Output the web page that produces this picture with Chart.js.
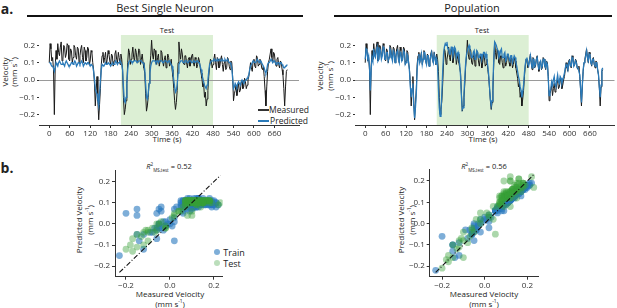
<!DOCTYPE html>
<html><head><meta charset="utf-8">
<script src="https://cdn.jsdelivr.net/npm/chart.js@4/dist/chart.umd.min.js"></script>
<style>
body{margin:0;background:#fff;width:617px;height:308px;position:relative;overflow:hidden;font-family:"Open Sans",sans-serif;color:#222}
.t{position:absolute;white-space:nowrap;transform:translate(-50%,-50%);line-height:1}
.rot{transform:translate(-50%,-50%) rotate(-90deg)}
.bar{position:absolute;height:2px;background:#111}
canvas{position:absolute}
sup,sub{font-size:60%;line-height:0}
</style></head><body>
<div class="t" style="left:7px;top:9px;font-weight:bold;font-size:14px">a.</div>
<div class="t" style="left:7px;top:168px;font-weight:bold;font-size:14px">b.</div>
<div class="t" style="left:165px;top:7px;font-size:11px">Best Single Neuron</div>
<div class="bar" style="left:27px;top:15px;width:276px"></div>
<div class="t" style="left:472px;top:7px;font-size:11px">Population</div>
<div class="bar" style="left:334px;top:15px;width:278px"></div>

<div class="t" style="left:167px;top:31px;font-size:7.5px">Test</div>
<div class="t" style="left:482px;top:31px;font-size:7.5px">Test</div>
<div class="t rot" style="left:5px;top:72px;font-size:8px">Velocity</div>
<div class="t rot" style="left:14px;top:72px;font-size:8px">(mm s<sup>-1</sup>)</div>
<div class="t rot" style="left:320px;top:76px;font-size:8px">Velocity</div>
<div class="t rot" style="left:330px;top:76px;font-size:8px">(mm s<sup>-1</sup>)</div>
<div class="t" style="left:167px;top:139px;font-size:8px">Time (s)</div>
<div class="t" style="left:483px;top:139px;font-size:8px">Time (s)</div>

<div class="bar" style="left:258px;top:108.5px;width:11px;background:#333"></div>
<div class="t" style="left:289px;top:109.5px;font-size:8.5px">Measured</div>
<div class="bar" style="left:258px;top:119.5px;width:11px;background:#2a7ab9"></div>
<div class="t" style="left:289px;top:120.5px;font-size:8.5px">Predicted</div>

<div class="t" style="left:169px;top:167px;font-size:7.5px"><i>R</i><sup>2</sup><sub>MS,test</sub> = 0.52</div>
<div class="t" style="left:484px;top:167px;font-size:7.5px"><i>R</i><sup>2</sup><sub>MS,test</sub> = 0.56</div>
<div class="t rot" style="left:79px;top:220px;font-size:8px">Predicted Velocity</div>
<div class="t rot" style="left:90px;top:220px;font-size:8px">(mm s<sup>-1</sup>)</div>
<div class="t rot" style="left:401px;top:220px;font-size:8px">Predicted Velocity</div>
<div class="t rot" style="left:412px;top:220px;font-size:8px">(mm s<sup>-1</sup>)</div>
<div class="t" style="left:170px;top:294px;font-size:8px">Measured Velocity</div>
<div class="t" style="left:170px;top:304px;font-size:8px">(mm s<sup>-1</sup>)</div>
<div class="t" style="left:484px;top:294px;font-size:8px">Measured Velocity</div>
<div class="t" style="left:484px;top:304px;font-size:8px">(mm s<sup>-1</sup>)</div>

<div style="position:absolute;left:214px;top:249px;width:6px;height:6px;border-radius:50%;background:rgba(40,120,190,0.6)"></div>
<div class="t" style="left:234px;top:252px;font-size:9px">Train</div>
<div style="position:absolute;left:214px;top:259.5px;width:6px;height:6px;border-radius:50%;background:rgba(60,160,60,0.35)"></div>
<div class="t" style="left:232px;top:262.5px;font-size:9px">Test</div>

<canvas id="tsL" width="305" height="117" style="left:0;top:25px"></canvas>
<canvas id="tsR" width="305" height="117" style="left:312px;top:25px"></canvas>
<canvas id="scL" width="140" height="130" style="left:90px;top:160px"></canvas>
<canvas id="scR" width="140" height="130" style="left:405px;top:160px"></canvas>
<script>
const times = [
0,2.5,5,7.5,10,12.5,15,17.5,20,22.5,25,27.5,30,32.5,35,37.5,40,42.5,45,47.5,
50,52.5,55,57.5,60,62.5,65,67.5,70,72.5,75,77.5,80,82.5,85,87.5,90,92.5,95,97.5,
100,102.5,105,107.5,110,112.5,115,117.5,120,122.5,125,127.5,130,132.5,135,137.5,140,142.5,145,147.5,
150,152.5,155,157.5,160,162.5,165,167.5,170,172.5,175,177.5,180,182.5,185,187.5,190,192.5,195,197.5,
200,202.5,205,207.5,210,212.5,215,217.5,220,222.5,225,227.5,230,232.5,235,237.5,240,242.5,245,247.5,
250,252.5,255,257.5,260,262.5,265,267.5,270,272.5,275,277.5,280,282.5,285,287.5,290,292.5,295,297.5,
300,302.5,305,307.5,310,312.5,315,317.5,320,322.5,325,327.5,330,332.5,335,337.5,340,342.5,345,347.5,
350,352.5,355,357.5,360,362.5,365,367.5,370,372.5,375,377.5,380,382.5,385,387.5,390,392.5,395,397.5,
400,402.5,405,407.5,410,412.5,415,417.5,420,422.5,425,427.5,430,432.5,435,437.5,440,442.5,445,447.5,
450,452.5,455,457.5,460,462.5,465,467.5,470,472.5,475,477.5,480,482.5,485,487.5,490,492.5,495,497.5,
500,502.5,505,507.5,510,512.5,515,517.5,520,522.5,525,527.5,530,532.5,535,537.5,540,542.5,545,547.5,
550,552.5,555,557.5,560,562.5,565,567.5,570,572.5,575,577.5,580,582.5,585,587.5,590,592.5,595,597.5,
600,602.5,605,607.5,610,612.5,615,617.5,620,622.5,625,627.5,630,632.5,635,637.5,640,642.5,645,647.5,
650,652.5,655,657.5,660,662.5,665,667.5,670,672.5,675,677.5,680,682.5,685,687.5,690,692.5,695,697.5];

const measured = [
0.10,0.21,0.18,0.11,0.13,0.06,-0.20,0.08,0.17,0.12,0.21,0.16,0.14,0.19,0.22,0.11,0.12,0.20,0.19,0.13,
0.15,0.21,0.20,0.12,0.11,0.18,0.17,0.10,0.13,0.20,0.19,0.14,0.12,0.19,0.18,0.10,0.14,0.18,0.20,0.13,
0.10,0.19,0.17,0.11,0.13,0.19,0.18,0.09,0.11,0.17,0.16,0.10,0.06,-0.02,-0.15,-0.06,0.02,-0.12,-0.23,-0.14,
-0.05,0.09,0.14,0.16,0.10,0.13,0.16,0.09,0.12,0.17,0.15,0.11,0.09,0.15,0.14,0.08,0.11,0.15,0.17,0.12,
0.10,0.16,0.13,0.09,0.15,0.12,0.05,-0.10,-0.20,-0.17,-0.12,-0.02,0.10,0.18,0.16,0.09,0.12,0.15,0.19,0.13,
0.11,0.18,0.16,0.10,0.13,0.18,0.17,0.09,0.12,0.15,0.10,0.07,0.04,-0.08,-0.18,-0.15,-0.10,-0.02,0.08,0.14,
0.23,0.15,0.12,0.18,0.17,0.10,0.09,0.13,0.15,0.08,0.11,0.17,0.16,0.11,0.08,0.12,0.14,0.07,0.10,0.15,
0.13,0.08,0.09,0.12,0.06,0.02,-0.05,-0.12,-0.17,-0.13,-0.06,0.10,0.22,0.16,0.12,0.18,0.15,0.10,0.09,0.14,
0.14,0.10,0.07,0.12,0.13,0.08,0.10,0.14,0.15,0.10,0.08,0.13,0.12,0.07,0.09,0.13,0.11,0.07,0.04,0.01,
-0.04,-0.02,-0.10,-0.07,-0.15,-0.11,-0.06,0.02,0.08,0.12,0.11,0.07,0.09,0.12,0.15,0.10,0.06,0.13,0.12,0.07,
0.08,0.12,0.14,0.09,0.05,0.10,0.11,0.06,0.07,0.13,0.12,0.08,0.06,0.11,0.10,0.02,-0.12,-0.08,-0.06,-0.03,
-0.09,-0.05,-0.02,-0.07,-0.06,-0.02,0.00,-0.05,-0.04,0.01,-0.01,-0.05,-0.03,0.00,0.02,0.06,0.10,0.07,0.05,0.11,
0.12,0.08,0.07,0.14,0.13,0.08,0.09,0.12,0.11,0.07,0.06,0.08,0.02,-0.06,-0.15,-0.04,0.05,0.10,0.12,0.15,
0.18,0.13,0.10,0.16,0.15,0.10,0.08,0.12,0.13,0.09,0.07,0.11,0.10,0.06,0.03,-0.05,-0.15,-0.04,0.05,0.06];

const predSingle = [
0.10,0.10,0.09,0.08,0.08,0.07,0.05,0.07,0.10,0.09,0.08,0.10,0.11,0.10,0.09,0.09,0.10,0.09,0.08,0.10,
0.11,0.10,0.09,0.08,0.08,0.09,0.10,0.10,0.09,0.10,0.11,0.10,0.08,0.09,0.10,0.10,0.09,0.10,0.11,0.10,
0.08,0.09,0.10,0.10,0.09,0.10,0.10,0.09,0.08,0.09,0.09,0.08,0.05,0.01,-0.05,-0.07,-0.08,-0.12,-0.15,-0.08,
0.00,0.06,0.09,0.09,0.08,0.09,0.10,0.09,0.09,0.10,0.10,0.09,0.08,0.09,0.10,0.09,0.09,0.10,0.11,0.10,
0.09,0.10,0.10,0.11,0.11,0.09,0.06,-0.04,-0.12,-0.13,-0.10,-0.02,0.06,0.10,0.11,0.11,0.11,0.10,0.10,0.11,
0.11,0.11,0.11,0.10,0.10,0.11,0.11,0.11,0.11,0.10,0.10,0.09,0.06,-0.02,-0.10,-0.11,-0.08,-0.02,0.04,0.08,
0.10,0.11,0.11,0.11,0.11,0.10,0.11,0.11,0.10,0.11,0.11,0.11,0.11,0.10,0.10,0.11,0.11,0.11,0.11,0.10,
0.11,0.11,0.10,0.09,0.08,0.04,0.00,-0.04,-0.07,-0.06,-0.03,0.04,0.09,0.10,0.11,0.11,0.11,0.10,0.10,0.11,
0.11,0.11,0.10,0.10,0.11,0.11,0.11,0.10,0.10,0.11,0.11,0.10,0.10,0.11,0.11,0.10,0.10,0.08,0.06,0.03,
0.01,-0.01,-0.03,-0.04,-0.05,-0.03,0.00,0.05,0.09,0.10,0.11,0.11,0.11,0.12,0.12,0.11,0.11,0.12,0.11,0.11,
0.12,0.11,0.11,0.12,0.11,0.11,0.12,0.11,0.11,0.12,0.11,0.10,0.10,0.09,0.07,0.01,-0.05,-0.04,-0.02,-0.03,
-0.04,-0.02,-0.01,-0.02,-0.03,-0.01,0.00,-0.01,-0.02,-0.01,0.00,0.00,0.01,0.02,0.03,0.06,0.08,0.09,0.10,0.11,
0.11,0.10,0.10,0.11,0.12,0.11,0.10,0.11,0.11,0.10,0.09,0.08,0.07,0.05,0.04,0.06,0.09,0.10,0.10,0.11,
0.12,0.11,0.10,0.11,0.11,0.10,0.09,0.10,0.10,0.10,0.09,0.10,0.10,0.09,0.08,0.07,0.07,0.08,0.08,0.09];

const predPop = [
0.12,0.18,0.17,0.12,0.14,0.08,-0.06,0.06,0.13,0.11,0.18,0.14,0.13,0.17,0.19,0.11,0.12,0.18,0.17,0.12,
0.14,0.19,0.18,0.12,0.12,0.16,0.16,0.11,0.13,0.18,0.17,0.13,0.11,0.17,0.16,0.10,0.13,0.16,0.17,0.12,
0.10,0.16,0.15,0.11,0.12,0.17,0.16,0.09,0.10,0.15,0.14,0.10,0.05,-0.04,-0.10,-0.05,-0.02,-0.15,-0.22,-0.16,
-0.08,0.06,0.12,0.15,0.10,0.12,0.15,0.09,0.12,0.16,0.16,0.11,0.09,0.14,0.14,0.08,0.11,0.14,0.16,0.12,
0.10,0.15,0.13,0.09,0.12,0.08,-0.05,-0.16,-0.21,-0.18,-0.08,0.05,0.15,0.19,0.21,0.20,0.22,0.18,0.18,0.15,
0.15,0.19,0.19,0.14,0.16,0.19,0.18,0.13,0.15,0.16,0.12,0.09,0.02,-0.09,-0.17,-0.16,-0.08,0.02,0.10,0.15,
0.17,0.19,0.20,0.17,0.15,0.13,0.13,0.16,0.17,0.12,0.14,0.17,0.16,0.13,0.13,0.15,0.15,0.12,0.14,0.16,
0.16,0.13,0.15,0.12,0.08,0.03,-0.04,-0.11,-0.15,-0.12,-0.02,0.12,0.22,0.21,0.20,0.18,0.17,0.13,0.14,0.17,
0.18,0.13,0.13,0.15,0.16,0.11,0.12,0.15,0.15,0.12,0.11,0.14,0.14,0.10,0.12,0.14,0.13,0.10,0.08,0.05,
0.02,0.00,-0.04,-0.06,-0.10,-0.07,-0.03,0.04,0.09,0.12,0.13,0.09,0.08,0.11,0.14,0.10,0.07,0.12,0.12,0.08,
0.09,0.12,0.13,0.09,0.06,0.10,0.11,0.07,0.08,0.12,0.12,0.08,0.07,0.10,0.09,0.01,-0.09,-0.07,-0.05,-0.01,
-0.03,0.00,0.02,-0.03,-0.04,0.00,0.03,-0.01,-0.02,0.02,0.01,-0.02,0.00,0.02,0.04,0.07,0.09,0.08,0.06,0.10,
0.11,0.08,0.08,0.13,0.12,0.08,0.09,0.11,0.10,0.07,0.07,0.07,0.03,-0.05,-0.13,-0.03,0.06,0.10,0.11,0.14,
0.17,0.13,0.11,0.15,0.14,0.10,0.09,0.12,0.12,0.09,0.08,0.10,0.10,0.06,0.03,-0.04,-0.10,-0.03,0.06,0.07];

const testWindow = [210, 480];
const tsXTicks = [0,60,120,180,240,300,360,420,480,540,600,660];
const tsYTicks = [-0.2,-0.1,0.0,0.1,0.2];
const scXTicks = [-0.2,0.0,0.2];
const scYTicks = [-0.2,-0.1,0.0,0.1,0.2];
const diagonal = [-0.23, 0.23];

Chart.defaults.font.family = "'Open Sans', sans-serif";
Chart.defaults.font.size = 8;
Chart.defaults.color = '#333';

const fmt = v => (Math.abs(v) < 1e-9 ? '0.0' : v.toFixed(1).replace('-', '\u2212'));

const tsBg = {
  id: 'tsBg',
  beforeDraw(chart) {
    const {ctx, chartArea: a, scales: {x}} = chart;
    ctx.save();
    ctx.fillStyle = '#dcefd4';
    const x0 = x.getPixelForValue(testWindow[0]), x1 = x.getPixelForValue(testWindow[1]);
    ctx.fillRect(x0, a.top, x1 - x0, a.bottom - a.top);
    ctx.restore();
  },
  beforeDatasetsDraw(chart) {
    const {ctx, chartArea: a, scales: {y}} = chart;
    const py = Math.round(y.getPixelForValue(0)) + 0.5;
    ctx.save();
    ctx.strokeStyle = '#9a9a9a';
    ctx.lineWidth = 1;
    ctx.beginPath(); ctx.moveTo(a.left, py); ctx.lineTo(a.right, py); ctx.stroke();
    ctx.restore();
  }
};

function tsChart(id, pred, o) {
  return new Chart(document.getElementById(id), {
    type: 'line',
    data: { datasets: [
      { data: times.map((t, i) => ({x: t, y: pred[i]})), borderColor: '#2a7ab9', borderWidth: 1.3, pointRadius: 0, tension: 0, order: 0 },
      { data: times.map((t, i) => ({x: t, y: measured[i]})), borderColor: '#1a1a1a', borderWidth: 1, pointRadius: 0, tension: 0, order: 1 }
    ]},
    options: {
      responsive: false, animation: false, devicePixelRatio: 1,
      plugins: { legend: {display: false}, tooltip: {enabled: false} },
      layout: { padding: {top: o.padTop, right: o.padRight, left: 0, bottom: 0} },
      scales: {
        x: { type: 'linear', min: -30, max: 732,
          afterFit: s => { s.height = o.xh; },
          afterBuildTicks: s => { s.ticks = tsXTicks.map(v => ({value: v})); },
          grid: {display: true, drawOnChartArea: false, tickLength: 3, color: '#333'},
          border: {display: true, color: '#333', width: 1},
          ticks: {padding: 1, maxRotation: 0, autoSkip: false, callback: v => String(v)} },
        y: { type: 'linear', min: -0.26, max: 0.26,
          afterFit: s => { s.width = o.yw; },
          afterBuildTicks: s => { s.ticks = tsYTicks.map(v => ({value: v})); },
          grid: {display: true, drawOnChartArea: false, tickLength: 2, color: '#333'},
          border: {display: false},
          ticks: {padding: 2, autoSkip: false, callback: v => fmt(v)} }
      }
    },
    plugins: [tsBg]
  });
}

function scChart(id, pred, o) {
  const train = [], test = [];
  times.forEach((t, i) => {
    const p = {x: measured[i], y: pred[i]};
    if (t >= testWindow[0] && t <= testWindow[1]) test.push(p); else train.push(p);
  });
  return new Chart(document.getElementById(id), {
    type: 'scatter',
    data: { datasets: [
      { type: 'line', data: [{x: diagonal[0], y: diagonal[0]}, {x: diagonal[1], y: diagonal[1]}], borderColor: '#111', borderWidth: 1.1, borderDash: [5, 2, 1, 2], pointRadius: 0, order: 0 },
      { data: test, backgroundColor: 'rgba(55,160,55,0.42)', borderWidth: 0, pointRadius: 3.4, order: 1 },
      { data: train, backgroundColor: 'rgba(40,120,190,0.6)', borderWidth: 0, pointRadius: 3.4, order: 2 }
    ]},
    options: {
      responsive: false, animation: false, devicePixelRatio: 1,
      plugins: { legend: {display: false}, tooltip: {enabled: false} },
      layout: { padding: {top: o.padTop, right: o.padRight, left: 0, bottom: 0} },
      scales: {
        x: { type: 'linear', min: o.xmin, max: o.xmax,
          afterFit: s => { s.height = o.xh; },
          afterBuildTicks: s => { s.ticks = scXTicks.map(v => ({value: v})); },
          grid: {display: true, drawOnChartArea: false, tickLength: 3, color: '#333'},
          border: {display: true, color: '#333', width: 1},
          ticks: {padding: 1, maxRotation: 0, autoSkip: false, callback: v => fmt(v)} },
        y: { type: 'linear', min: -0.25, max: 0.255,
          afterFit: s => { s.width = o.yw; },
          afterBuildTicks: s => { s.ticks = scYTicks.map(v => ({value: v})); },
          grid: {display: true, drawOnChartArea: false, tickLength: 3, color: '#333'},
          border: {display: true, color: '#333', width: 1},
          ticks: {padding: 2, autoSkip: false, callback: v => fmt(v)} }
      }
    }
  });
}

tsChart('tsL', predSingle, {padTop: 10, padRight: 6, xh: 17, yw: 39});
tsChart('tsR', predPop, {padTop: 10, padRight: 2.5, xh: 17, yw: 43});
scChart('scL', predSingle, {padTop: 10, padRight: 7.3, xh: 13.3, yw: 25, xmin: -0.25, xmax: 0.24});
scChart('scR', predPop, {padTop: 9.3, padRight: 7, xh: 13.3, yw: 24.7, xmin: -0.258, xmax: 0.25});
</script>
</body></html>
